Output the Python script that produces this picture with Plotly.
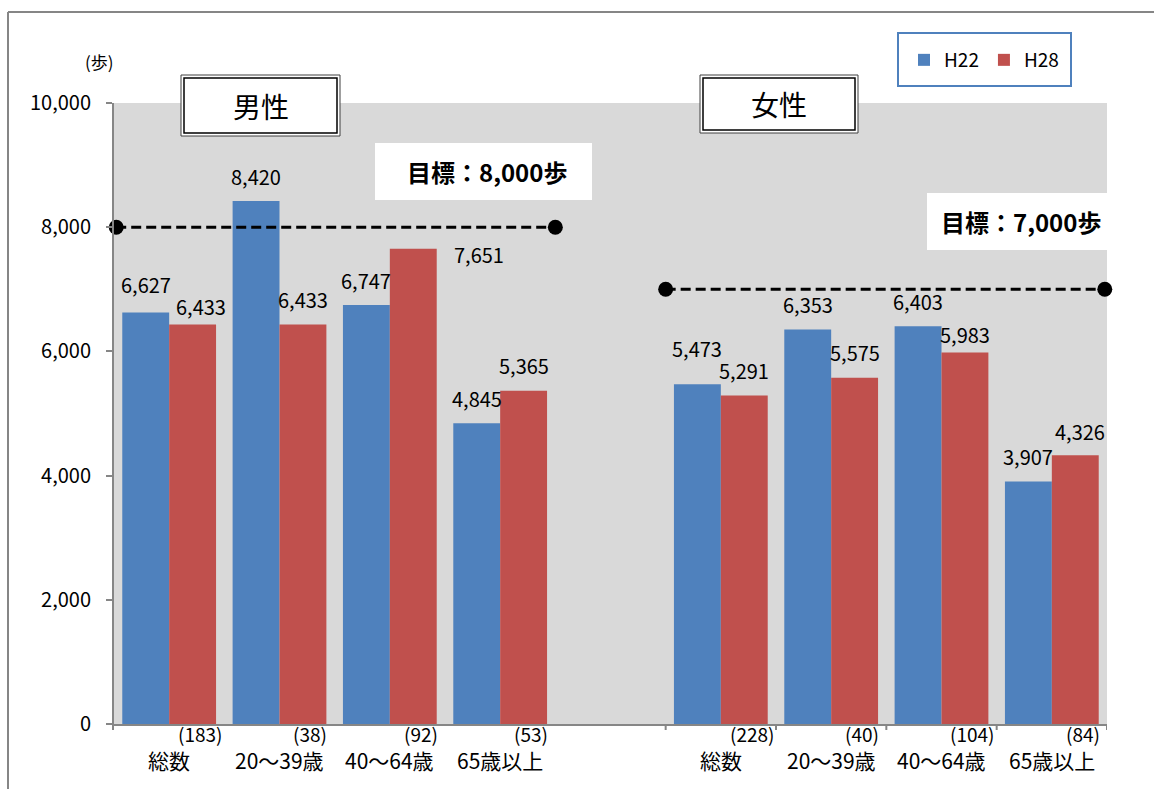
import plotly.graph_objects as go

# ---- data -------------------------------------------------------------
categories = ["総数", "20～39歳", "40～64歳", "65歳以上"]
men_h22 = [6627, 8420, 6747, 4845]
men_h28 = [6433, 6433, 7651, 5365]
women_h22 = [5473, 6353, 6403, 3907]
women_h28 = [5291, 5575, 5983, 4326]
men_n = [183, 38, 92, 53]
women_n = [228, 40, 104, 84]
men_target = 8000
women_target = 7000
y_tickvals = [0, 2000, 4000, 6000, 8000, 10000]
y_ticktext = ["0", "2,000", "4,000", "6,000", "8,000", "10,000"]

# ---- style ------------------------------------------------------------
BLUE = "#4F81BD"
RED = "#C0504D"
BG = "#D9D9D9"
AXIS = "#868686"
FONT = "Noto Sans CJK JP"
W, H = 1154, 789
L, R, T, B = 114, 1107, 103, 724
BARGAP = 0.15

# men in slots 0-3, slot 4 left empty, women in slots 5-8
men_slots = [0, 1, 2, 3]
women_slots = [5, 6, 7, 8]
slots = men_slots + women_slots
h22 = men_h22 + women_h22
h28 = men_h28 + women_h28
counts = men_n + women_n
names = categories + categories


def px(x):
    return (x - L) / (R - L)


def py(y):
    return (B - y) / (B - T)


def note(**kw):
    base = dict(showarrow=False, xanchor="center", yanchor="middle")
    base.update(kw)
    return base


fig = go.Figure()
fig.add_trace(go.Bar(x=slots, y=h22, name="H22", marker=dict(color=BLUE, line=dict(width=0))))
fig.add_trace(go.Bar(x=slots, y=h28, name="H28", marker=dict(color=RED, line=dict(width=0))))

# target lines with end dots
for x0, x1, tgt in [(-0.48, 3.5, men_target), (4.5, 8.48, women_target)]:
    fig.add_trace(go.Scatter(
        x=[x0, x1], y=[tgt, tgt], mode="lines+markers", showlegend=False,
        line=dict(color="black", width=3, dash="10px,5px"),
        marker=dict(color="black", size=15), cliponaxis=False, hoverinfo="skip"))

annotations = []

# value labels above bars (pixel offsets for a few crowded labels)
half = (1 - BARGAP) / 4
shift22 = {0: (0, 28), 4: (0, 36)}
shift28 = {0: (8, 18), 2: (66, -6), 6: (0, 18), 7: (5, 24)}
for i, s in enumerate(slots):
    dx, dy = shift22.get(i, (0, 25))
    annotations.append(note(x=s - half, y=h22[i], text=f"{h22[i]:,}",
                            xshift=dx, yshift=dy, font=dict(size=20, color="black")))
    dx, dy = shift28.get(i, (0, 25))
    annotations.append(note(x=s + half, y=h28[i], text=f"{h28[i]:,}",
                            xshift=dx, yshift=dy, font=dict(size=20, color="black")))

# category names and sample sizes below the axis
for i, s in enumerate(slots):
    annotations.append(note(x=s + 0.28, y=py(733), yref="paper", text=f"({counts[i]})",
                            font=dict(size=19, color="black")))
    annotations.append(note(x=s, y=py(760), yref="paper", text=names[i],
                            font=dict(size=21, color="black")))

# unit label
annotations.append(note(x=px(99), y=py(62), xref="paper", yref="paper", text="(歩)",
                        font=dict(size=17, color="black")))

shapes = []

# outer frame
shapes.append(dict(type="line", xref="paper", yref="paper", x0=px(8), x1=px(8), y0=py(12), y1=py(789),
                   line=dict(color=AXIS, width=2)))
shapes.append(dict(type="line", xref="paper", yref="paper", x0=px(8), x1=px(1154), y0=py(12), y1=py(12),
                   line=dict(color=AXIS, width=2)))

# group title boxes with double border
for (x0, x1, y0, y1, label) in [(181, 340, 75, 136, "男性"), (700, 858, 75, 133, "女性")]:
    shapes.append(dict(type="rect", xref="paper", yref="paper", x0=px(x0), x1=px(x1), y0=py(y0), y1=py(y1),
                       fillcolor="white", line=dict(color="#404040", width=1), layer="above"))
    shapes.append(dict(type="rect", xref="paper", yref="paper", x0=px(x0 + 3), x1=px(x1 - 3),
                       y0=py(y0 + 3), y1=py(y1 - 3), fillcolor="white",
                       line=dict(color="black", width=1.5), layer="above"))
    annotations.append(note(x=px((x0 + x1) / 2), y=py((y0 + y1) / 2), xref="paper", yref="paper",
                            text=label, font=dict(size=28, color="black")))

# target caption boxes
for (x0, x1, y0, y1, tgt) in [(375, 592, 143, 200, men_target), (927, 1108, 193, 250, women_target)]:
    shapes.append(dict(type="rect", xref="paper", yref="paper", x0=px(x0), x1=px(x1), y0=py(y0), y1=py(y1),
                       fillcolor="white", line=dict(width=0), layer="above"))
    annotations.append(note(x=px((x0 + x1) / 2 + 3), y=py((y0 + y1) / 2), xref="paper", yref="paper",
                            text=f"<b>目標：{tgt:,}歩</b>", font=dict(size=24, color="black")))

# axis ticks on the category axis
for xv in [4.5, 5.5, 6.5, 7.5, 8.5]:
    shapes.append(dict(type="line", xref="x", yref="paper", x0=xv, x1=xv, y0=0, y1=py(730),
                       line=dict(color=AXIS, width=2)))
shapes.append(dict(type="line", xref="paper", yref="paper", x0=px(113), x1=px(113), y0=0, y1=py(730),
                   line=dict(color=AXIS, width=2)))

# legend frame
shapes.append(dict(type="rect", xref="paper", yref="paper", x0=px(898), x1=px(1071), y0=py(33), y1=py(86),
                   line=dict(color=BLUE, width=2), fillcolor="rgba(0,0,0,0)", layer="above"))

fig.update_layout(
    width=W, height=H,
    margin=dict(l=L, r=W - R, t=T, b=H - B, pad=0),
    paper_bgcolor="white", plot_bgcolor=BG,
    font=dict(family=FONT, size=19, color="black"),
    barmode="group", bargap=BARGAP, bargroupgap=0,
    showlegend=True,
    legend=dict(orientation="h", x=px(904), y=py(60), xanchor="left", yanchor="middle",
                bgcolor="rgba(0,0,0,0)", borderwidth=0, font=dict(size=19),
                itemwidth=30, itemclick=False),
    annotations=annotations, shapes=shapes,
    xaxis=dict(range=[-0.5, 8.5], showticklabels=False, showgrid=False, zeroline=False,
               showline=True, linecolor=AXIS, linewidth=2, ticks="", fixedrange=True),
    yaxis=dict(range=[0, 10000], tickvals=y_tickvals, ticktext=y_ticktext, showgrid=False,
               zeroline=False, showline=True, linecolor=AXIS, linewidth=2, ticks="outside",
               ticklen=6, tickcolor=AXIS, tickwidth=2, ticklabelstandoff=11,
               tickfont=dict(size=20), fixedrange=True),
)

fig.write_html("out.html")
